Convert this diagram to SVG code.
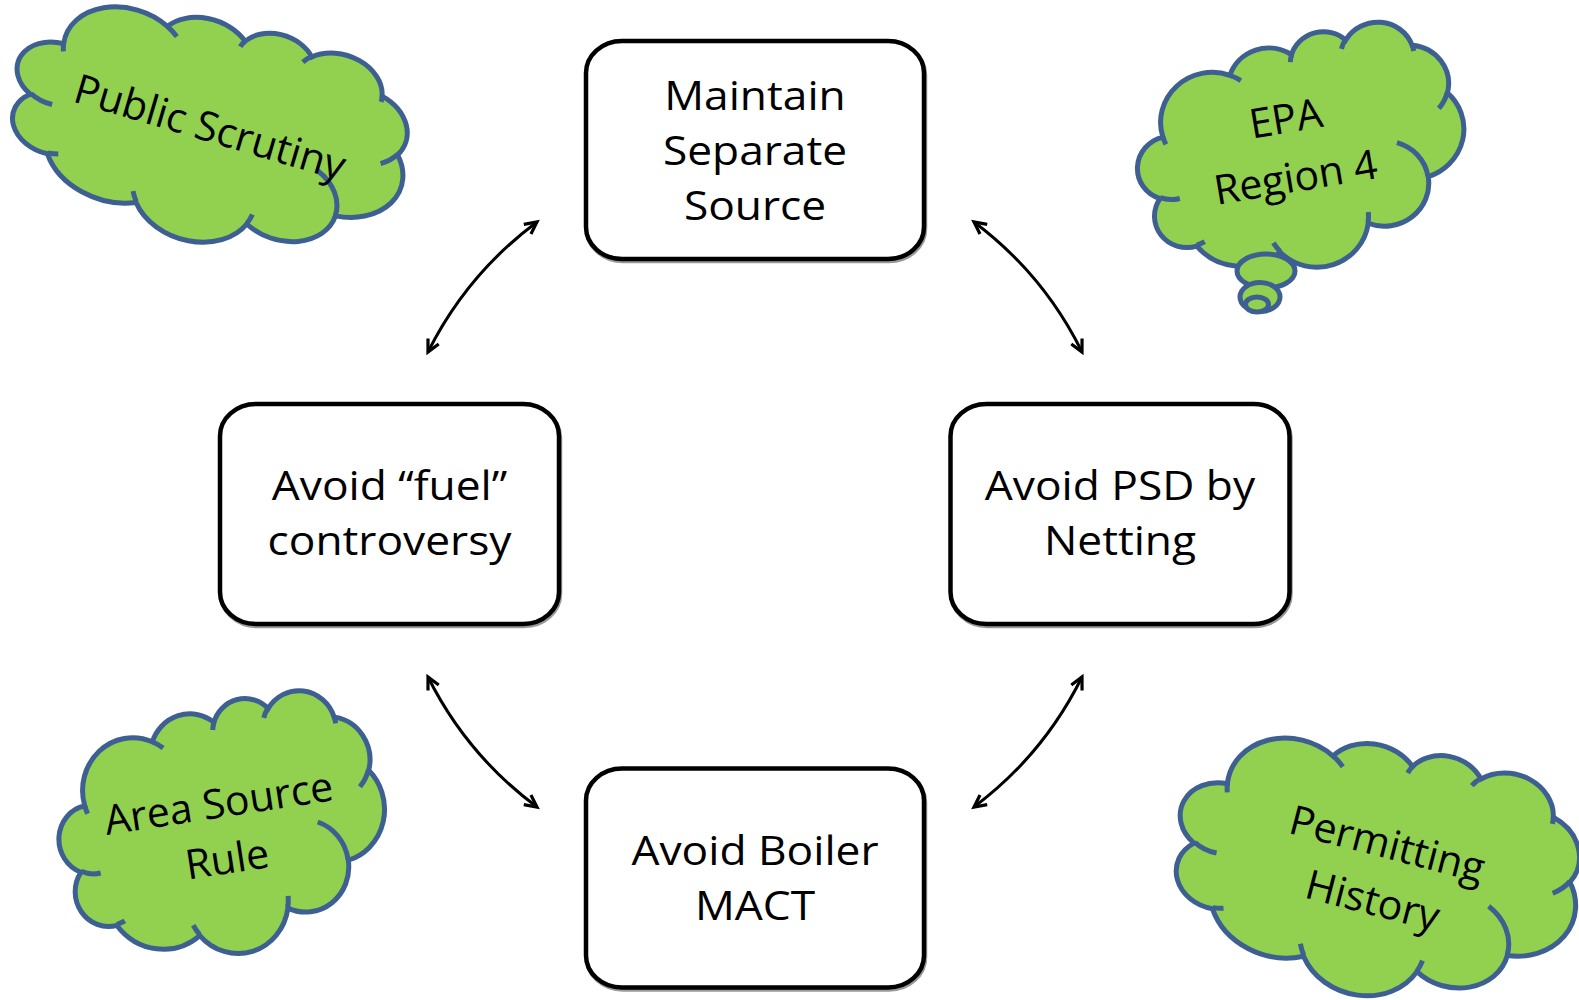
<svg xmlns="http://www.w3.org/2000/svg" xmlns:xlink="http://www.w3.org/1999/xlink" width="1579" height="1000" viewBox="0 0 1579 1000">
<defs>
<style>
.box{fill:#fff;stroke:#000;stroke-width:4.5}
.shadow{fill:none;stroke:#000;stroke-opacity:.4;stroke-width:4.5}
.lbl{font-family:"Open Sans","Liberation Sans",sans-serif;font-size:41px;fill:#000;text-anchor:middle}
.ctext{font-family:"Open Sans","Liberation Sans",sans-serif;font-size:41px;fill:#000;text-anchor:middle}
.cloud{fill:#92D050;stroke:#3D5F92;stroke-width:5;vector-effect:non-scaling-stroke}
.cloudin{fill:none;stroke:#3D5F92;stroke-width:5;vector-effect:non-scaling-stroke}
.tail{fill:#92D050;stroke:#3D5F92;stroke-width:5}
.conn{fill:none;stroke:#000;stroke-width:3;marker-start:url(#ah);marker-end:url(#ah)}
</style>
<marker id="ah" markerUnits="userSpaceOnUse" viewBox="-16 -10 20 20" refX="0" refY="0" markerWidth="20" markerHeight="20" orient="auto-start-reverse" overflow="visible">
<path d="M-12,-6 L0,0 L-12,6" fill="none" stroke="#000" stroke-width="3.2" stroke-linejoin="miter"/>
</marker>
<g id="cloudShape">
<path class="cloud" d="M39 143.7A67.53 91.9 0 0 1 140.05 52.02A53.33 72.67 0 0 1 224.57 34.32A43.65 59.45 0 0 1 298.34 24.8A48.57 65.95 0 0 1 383.19 55.76A53.33 72.73 0 0 1 418.19 154.6A67.75 92.2 0 0 1 374.05 302.03A57.85 78.67 0 0 1 285.57 368.13A67.52 92.15 0 0 1 164.81 392.64A77.2 105.43 0 0 1 58.06 354.7A43.6 59.18 0 0 1 21.14 255.49A43.45 59.45 0 0 1 39 143.7Z"/>
<path class="cloudin" d="M46.93 261.77A43.45 59.45 0 0 1 21.59 253.8M69.28 348.99A43.6 59.18 0 0 1 58.19 352.81M164.78 390.9A67.52 92.15 0 0 1 158.11 373.51M288.27 347.51A67.52 92.15 0 0 1 285.6 366.6M341.29 229.54A57.85 78.67 0 0 1 373.81 300.9M417.98 153.54A53.33 72.73 0 0 1 403.5 180.3M383.24 54.26A48.57 65.95 0 0 1 384 66.9M290.78 39.52A48.57 65.95 0 0 1 298.2 23.4M221.41 47.2A43.65 59.45 0 0 1 225 33.3M140 51.92A67.53 91.9 0 0 1 153 65.4M41.27 157.89A67.53 91.9 0 0 1 39 143.7"/>
</g>
</defs>

<g id="connectors">
<path class="conn" d="M428,352 A365,365 0 0 1 537,222"/>
<path class="conn" d="M974,222 A365,365 0 0 1 1082,352"/>
<path class="conn" d="M1082,677 A365,365 0 0 1 974,807"/>
<path class="conn" d="M537,807 A365,365 0 0 1 428,677"/>
</g>

<g id="node-maintain">
<rect class="shadow" x="587" y="43" width="338" height="218" rx="36" ry="32"/>
<rect class="box" x="586" y="41" width="338" height="218" rx="36" ry="32"/>
<text class="lbl" transform="translate(755,0) scale(1.08,1)"><tspan x="0" y="110">Maintain</tspan><tspan x="0" y="165">Separate</tspan><tspan x="0" y="220">Source</tspan></text>
</g>

<g id="node-fuel">
<rect class="shadow" x="221" y="406" width="339" height="220" rx="36" ry="32"/>
<rect class="box" x="220" y="404" width="339" height="220" rx="36" ry="32"/>
<text class="lbl" transform="translate(389.5,0) scale(1.08,1)"><tspan x="0" y="500">Avoid “fuel”</tspan><tspan x="0" y="555">controversy</tspan></text>
</g>

<g id="node-psd">
<rect class="shadow" x="951.5" y="406" width="339" height="220" rx="36" ry="32"/>
<rect class="box" x="950.5" y="404" width="339" height="220" rx="36" ry="32"/>
<text class="lbl" transform="translate(1120,0) scale(1.08,1)"><tspan x="0" y="500">Avoid PSD by</tspan><tspan x="0" y="555">Netting</tspan></text>
</g>

<g id="node-mact">
<rect class="shadow" x="587" y="770.5" width="338" height="219" rx="36" ry="32"/>
<rect class="box" x="586" y="768.5" width="338" height="219" rx="36" ry="32"/>
<text class="lbl" transform="translate(755,0) scale(1.08,1)"><tspan x="0" y="865">Avoid Boiler</tspan><tspan x="0" y="920">MACT</tspan></text>
</g>

<g id="cloud-public">
<use xlink:href="#cloudShape" transform="translate(209,129) rotate(17.5) scale(0.9282,0.5208) translate(-216,-216)"/>
<text class="ctext" transform="translate(206,141) rotate(16.5)" x="0" y="0">Public Scrutiny</text>
</g>

<g id="cloud-epa">
<use xlink:href="#cloudShape" transform="translate(1302,152) rotate(-10) scale(0.7593,0.537) translate(-216,-216)"/>
<ellipse class="tail" cx="1266" cy="271" rx="29" ry="17"/>
<ellipse class="tail" cx="1260" cy="297" rx="20" ry="14.5"/>
<ellipse class="tail" cx="1257" cy="304.5" rx="11.5" ry="7.5"/>
<g transform="translate(1293,162) rotate(-9.5)">
<text class="ctext" x="0" y="-29.8">EPA</text>
<text class="ctext" x="0" y="29.8">Region 4</text>
</g>
</g>

<g id="cloud-area">
<use xlink:href="#cloudShape" transform="translate(223,828) rotate(-8.4) scale(0.7546,0.5833) translate(-216,-216)"/>
<g transform="translate(225,845.4) rotate(-8.7)">
<text class="ctext" x="0" y="-28.2">Area Source</text>
<text class="ctext" x="0" y="28.2">Rule</text>
</g>
</g>

<g id="cloud-permitting">
<use xlink:href="#cloudShape" transform="translate(1377,868) rotate(15) scale(0.9398,0.5903) translate(-216,-216)"/>
<g transform="translate(1376.4,886) rotate(14.5)">
<text class="ctext" x="0" y="-29.2">Permitting</text>
<text class="ctext" x="0" y="29.2">History</text>
</g>
</g>
</svg>
